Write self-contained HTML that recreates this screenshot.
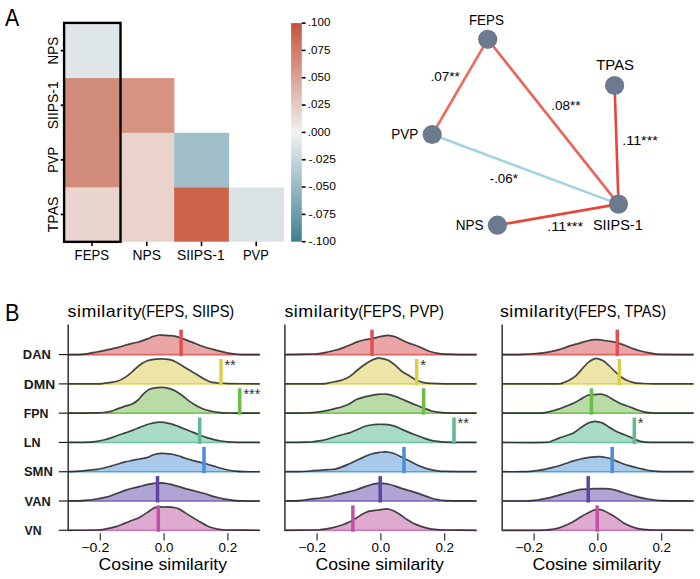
<!DOCTYPE html>
<html><head><meta charset="utf-8"><style>html,body{margin:0;padding:0;background:#fff;}svg{display:block;font-family:"Liberation Sans",sans-serif;}</style></head><body>
<svg width="700" height="579" viewBox="0 0 700 579">
<rect width="700" height="579" fill="#fff"/>
<text x="5.10" y="25.90" font-size="24.00" text-anchor="start" font-weight="normal" fill="#000" font-family="Liberation Sans" textLength="14.20" lengthAdjust="spacingAndGlyphs">A</text>
<rect x="64.70" y="23.40" width="55.02" height="55.00" fill="#dfe6ea"/>
<rect x="64.70" y="78.10" width="55.02" height="109.70" fill="#d08b79"/>
<rect x="64.70" y="187.50" width="55.02" height="54.20" fill="#ebd5cf"/>
<rect x="119.42" y="78.10" width="55.02" height="55.00" fill="#d79382"/>
<rect x="119.42" y="132.80" width="55.02" height="108.90" fill="#ebd3cd"/>
<rect x="174.14" y="132.80" width="55.02" height="55.00" fill="#9fbec9"/>
<rect x="174.14" y="187.50" width="55.02" height="54.20" fill="#cc6449"/>
<rect x="228.86" y="187.50" width="55.02" height="54.20" fill="#dae2e6"/>
<rect x="64.1" y="22.9" width="56.4" height="218.95" fill="none" stroke="#000" stroke-width="2.4"/>
<line x1="60.80" y1="50.69" x2="64.70" y2="50.69" stroke="#000" stroke-width="1.8"/>
<text transform="translate(57.6,50.69) rotate(-90)" x="0" y="0" font-size="14" text-anchor="middle" font-family="Liberation Sans" textLength="27.60" lengthAdjust="spacingAndGlyphs">NPS</text>
<line x1="60.80" y1="105.27" x2="64.70" y2="105.27" stroke="#000" stroke-width="1.8"/>
<text transform="translate(57.6,105.27) rotate(-90)" x="0" y="0" font-size="14" text-anchor="middle" font-family="Liberation Sans" textLength="48.00" lengthAdjust="spacingAndGlyphs">SIIPS-1</text>
<line x1="60.80" y1="159.85" x2="64.70" y2="159.85" stroke="#000" stroke-width="1.8"/>
<text transform="translate(57.6,159.85) rotate(-90)" x="0" y="0" font-size="14" text-anchor="middle" font-family="Liberation Sans" textLength="25.80" lengthAdjust="spacingAndGlyphs">PVP</text>
<line x1="60.80" y1="214.43" x2="64.70" y2="214.43" stroke="#000" stroke-width="1.8"/>
<text transform="translate(57.6,214.43) rotate(-90)" x="0" y="0" font-size="14" text-anchor="middle" font-family="Liberation Sans" textLength="35.50" lengthAdjust="spacingAndGlyphs">TPAS</text>
<line x1="92.06" y1="241.72" x2="92.06" y2="246.12" stroke="#000" stroke-width="1.6"/>
<text x="91.76" y="259.60" font-size="14.00" text-anchor="middle" font-weight="normal" fill="#000" font-family="Liberation Sans" textLength="34.30" lengthAdjust="spacingAndGlyphs">FEPS</text>
<line x1="146.78" y1="241.72" x2="146.78" y2="246.12" stroke="#000" stroke-width="1.6"/>
<text x="146.78" y="259.60" font-size="14.00" text-anchor="middle" font-weight="normal" fill="#000" font-family="Liberation Sans" textLength="28.50" lengthAdjust="spacingAndGlyphs">NPS</text>
<line x1="201.50" y1="241.72" x2="201.50" y2="246.12" stroke="#000" stroke-width="1.6"/>
<text x="200.80" y="259.60" font-size="14.00" text-anchor="middle" font-weight="normal" fill="#000" font-family="Liberation Sans" textLength="47.80" lengthAdjust="spacingAndGlyphs">SIIPS-1</text>
<line x1="256.22" y1="241.72" x2="256.22" y2="246.12" stroke="#000" stroke-width="1.6"/>
<text x="255.92" y="259.60" font-size="14.00" text-anchor="middle" font-weight="normal" fill="#000" font-family="Liberation Sans" textLength="25.90" lengthAdjust="spacingAndGlyphs">PVP</text>
<defs><linearGradient id="cb" x1="0" y1="0" x2="0" y2="1">
<stop offset="0.000" stop-color="#c3553a"/>
<stop offset="0.125" stop-color="#cf7c68"/>
<stop offset="0.250" stop-color="#daa294"/>
<stop offset="0.375" stop-color="#e6cac3"/>
<stop offset="0.500" stop-color="#f2f1f1"/>
<stop offset="0.625" stop-color="#c4d6db"/>
<stop offset="0.750" stop-color="#98b9c3"/>
<stop offset="0.875" stop-color="#6b9cab"/>
<stop offset="1.000" stop-color="#3f7f93"/>
</linearGradient></defs>
<rect x="291.10" y="23.10" width="10.70" height="218.60" fill="url(#cb)"/>
<line x1="301.80" y1="23.10" x2="305.60" y2="23.10" stroke="#000" stroke-width="1.6"/>
<text x="307.80" y="26.30" font-size="11.00" text-anchor="start" font-weight="normal" fill="#000" font-family="Liberation Sans" textLength="22.60" lengthAdjust="spacingAndGlyphs">.100</text>
<line x1="301.80" y1="50.42" x2="305.60" y2="50.42" stroke="#000" stroke-width="1.6"/>
<text x="307.80" y="53.62" font-size="11.00" text-anchor="start" font-weight="normal" fill="#000" font-family="Liberation Sans" textLength="22.60" lengthAdjust="spacingAndGlyphs">.075</text>
<line x1="301.80" y1="77.75" x2="305.60" y2="77.75" stroke="#000" stroke-width="1.6"/>
<text x="307.80" y="80.95" font-size="11.00" text-anchor="start" font-weight="normal" fill="#000" font-family="Liberation Sans" textLength="22.60" lengthAdjust="spacingAndGlyphs">.050</text>
<line x1="301.80" y1="105.07" x2="305.60" y2="105.07" stroke="#000" stroke-width="1.6"/>
<text x="307.80" y="108.27" font-size="11.00" text-anchor="start" font-weight="normal" fill="#000" font-family="Liberation Sans" textLength="22.60" lengthAdjust="spacingAndGlyphs">.025</text>
<line x1="301.80" y1="132.40" x2="305.60" y2="132.40" stroke="#000" stroke-width="1.6"/>
<text x="307.80" y="135.60" font-size="11.00" text-anchor="start" font-weight="normal" fill="#000" font-family="Liberation Sans" textLength="22.60" lengthAdjust="spacingAndGlyphs">.000</text>
<line x1="301.80" y1="159.72" x2="305.60" y2="159.72" stroke="#000" stroke-width="1.6"/>
<text x="308.50" y="162.92" font-size="11.00" text-anchor="start" font-weight="normal" fill="#000" font-family="Liberation Sans" textLength="27.40" lengthAdjust="spacingAndGlyphs">-.025</text>
<line x1="301.80" y1="187.05" x2="305.60" y2="187.05" stroke="#000" stroke-width="1.6"/>
<text x="308.50" y="190.25" font-size="11.00" text-anchor="start" font-weight="normal" fill="#000" font-family="Liberation Sans" textLength="27.40" lengthAdjust="spacingAndGlyphs">-.050</text>
<line x1="301.80" y1="214.38" x2="305.60" y2="214.38" stroke="#000" stroke-width="1.6"/>
<text x="308.50" y="217.57" font-size="11.00" text-anchor="start" font-weight="normal" fill="#000" font-family="Liberation Sans" textLength="27.40" lengthAdjust="spacingAndGlyphs">-.075</text>
<line x1="301.80" y1="241.70" x2="305.60" y2="241.70" stroke="#000" stroke-width="1.6"/>
<text x="308.50" y="244.90" font-size="11.00" text-anchor="start" font-weight="normal" fill="#000" font-family="Liberation Sans" textLength="27.40" lengthAdjust="spacingAndGlyphs">-.100</text>
<line x1="487.70" y1="39.30" x2="432.20" y2="134.50" stroke="#f06b5d" stroke-width="2.6"/>
<line x1="487.70" y1="39.30" x2="618.50" y2="204.10" stroke="#ee6257" stroke-width="2.6"/>
<line x1="432.20" y1="134.50" x2="618.50" y2="204.10" stroke="#a4d3e3" stroke-width="2.6"/>
<line x1="614.60" y1="85.50" x2="618.50" y2="204.10" stroke="#e8453a" stroke-width="2.6"/>
<line x1="497.40" y1="225.20" x2="618.50" y2="204.10" stroke="#e8453a" stroke-width="2.6"/>
<circle cx="487.70" cy="39.30" r="9.6" fill="#6b7a8d"/>
<circle cx="614.60" cy="85.50" r="9.6" fill="#6b7a8d"/>
<circle cx="432.20" cy="134.50" r="9.6" fill="#6b7a8d"/>
<circle cx="618.50" cy="204.10" r="9.6" fill="#6b7a8d"/>
<circle cx="497.40" cy="225.20" r="9.6" fill="#6b7a8d"/>
<text x="468.90" y="25.10" font-size="14.00" text-anchor="start" font-weight="normal" fill="#000" font-family="Liberation Sans" textLength="35.00" lengthAdjust="spacingAndGlyphs">FEPS</text>
<text x="596.30" y="70.20" font-size="14.00" text-anchor="start" font-weight="normal" fill="#000" font-family="Liberation Sans" textLength="37.70" lengthAdjust="spacingAndGlyphs">TPAS</text>
<text x="391.20" y="138.70" font-size="14.00" text-anchor="start" font-weight="normal" fill="#000" font-family="Liberation Sans" textLength="27.00" lengthAdjust="spacingAndGlyphs">PVP</text>
<text x="455.70" y="229.50" font-size="14.00" text-anchor="start" font-weight="normal" fill="#000" font-family="Liberation Sans" textLength="27.90" lengthAdjust="spacingAndGlyphs">NPS</text>
<text x="592.90" y="230.30" font-size="14.00" text-anchor="start" font-weight="normal" fill="#000" font-family="Liberation Sans" textLength="49.80" lengthAdjust="spacingAndGlyphs">SIIPS-1</text>
<text x="430.40" y="80.80" font-size="13.00" text-anchor="start" font-weight="normal" fill="#000" font-family="Liberation Sans" textLength="29.40" lengthAdjust="spacingAndGlyphs">.07**</text>
<text x="551.20" y="109.50" font-size="13.00" text-anchor="start" font-weight="normal" fill="#000" font-family="Liberation Sans" textLength="29.30" lengthAdjust="spacingAndGlyphs">.08**</text>
<text x="622.30" y="145.40" font-size="13.00" text-anchor="start" font-weight="normal" fill="#000" font-family="Liberation Sans" textLength="35.50" lengthAdjust="spacingAndGlyphs">.11***</text>
<text x="489.70" y="182.70" font-size="13.00" text-anchor="start" font-weight="normal" fill="#000" font-family="Liberation Sans" textLength="28.20" lengthAdjust="spacingAndGlyphs">-.06*</text>
<text x="547.30" y="230.90" font-size="13.00" text-anchor="start" font-weight="normal" fill="#000" font-family="Liberation Sans" textLength="35.80" lengthAdjust="spacingAndGlyphs">.11***</text>
<text x="5.00" y="320.50" font-size="24.00" text-anchor="start" font-weight="normal" fill="#000" font-family="Liberation Sans" textLength="14.50" lengthAdjust="spacingAndGlyphs">B</text>
<text x="67.50" y="316.60" font-size="17.00" text-anchor="start" font-weight="normal" fill="#000" font-family="Liberation Sans" textLength="74.60" lengthAdjust="spacingAndGlyphs" letter-spacing="0.5">similarity</text>
<text x="141.30" y="316.60" font-size="17.00" text-anchor="start" font-weight="normal" fill="#000" font-family="Liberation Sans" textLength="92.90" lengthAdjust="spacingAndGlyphs">(FEPS, SIIPS)</text>
<text x="284.40" y="316.60" font-size="17.00" text-anchor="start" font-weight="normal" fill="#000" font-family="Liberation Sans" textLength="74.60" lengthAdjust="spacingAndGlyphs" letter-spacing="0.5">similarity</text>
<text x="358.20" y="316.60" font-size="17.00" text-anchor="start" font-weight="normal" fill="#000" font-family="Liberation Sans" textLength="85.70" lengthAdjust="spacingAndGlyphs">(FEPS, PVP)</text>
<text x="499.90" y="316.60" font-size="17.00" text-anchor="start" font-weight="normal" fill="#000" font-family="Liberation Sans" textLength="74.60" lengthAdjust="spacingAndGlyphs" letter-spacing="0.5">similarity</text>
<text x="573.70" y="316.60" font-size="17.00" text-anchor="start" font-weight="normal" fill="#000" font-family="Liberation Sans" textLength="92.30" lengthAdjust="spacingAndGlyphs">(FEPS, TPAS)</text>
<text x="22.80" y="359.30" font-size="13.00" text-anchor="start" font-weight="bold" fill="#1a1a1a" font-family="Liberation Sans" textLength="28.00" lengthAdjust="spacingAndGlyphs">DAN</text>
<text x="23.80" y="388.58" font-size="13.00" text-anchor="start" font-weight="bold" fill="#1a1a1a" font-family="Liberation Sans" textLength="31.40" lengthAdjust="spacingAndGlyphs">DMN</text>
<text x="23.80" y="417.86" font-size="13.00" text-anchor="start" font-weight="bold" fill="#1a1a1a" font-family="Liberation Sans" textLength="24.70" lengthAdjust="spacingAndGlyphs">FPN</text>
<text x="23.80" y="447.14" font-size="13.00" text-anchor="start" font-weight="bold" fill="#1a1a1a" font-family="Liberation Sans" textLength="16.70" lengthAdjust="spacingAndGlyphs">LN</text>
<text x="23.90" y="476.42" font-size="13.00" text-anchor="start" font-weight="bold" fill="#1a1a1a" font-family="Liberation Sans" textLength="28.90" lengthAdjust="spacingAndGlyphs">SMN</text>
<text x="24.60" y="505.70" font-size="13.00" text-anchor="start" font-weight="bold" fill="#1a1a1a" font-family="Liberation Sans" textLength="26.10" lengthAdjust="spacingAndGlyphs">VAN</text>
<text x="24.60" y="534.98" font-size="13.00" text-anchor="start" font-weight="bold" fill="#1a1a1a" font-family="Liberation Sans" textLength="17.00" lengthAdjust="spacingAndGlyphs">VN</text>
<path d="M68.20,354.60 C70.55,354.55 78.77,354.50 82.30,354.30 C85.83,354.10 87.02,353.78 89.40,353.40 C91.78,353.02 94.22,352.47 96.60,352.00 C98.98,351.53 101.32,351.08 103.70,350.60 C106.08,350.12 108.52,349.63 110.90,349.10 C113.28,348.57 115.63,348.03 118.00,347.40 C120.37,346.77 122.72,345.97 125.10,345.30 C127.48,344.63 129.92,344.00 132.30,343.40 C134.68,342.80 137.02,342.42 139.40,341.70 C141.78,340.98 144.22,340.00 146.60,339.10 C148.98,338.20 151.57,336.98 153.70,336.30 C155.83,335.62 157.68,335.17 159.40,335.00 C161.12,334.83 162.05,335.18 164.00,335.30 C165.95,335.42 168.72,335.40 171.10,335.70 C173.48,336.00 175.92,336.45 178.30,337.10 C180.68,337.75 183.02,338.72 185.40,339.60 C187.78,340.48 190.22,341.45 192.60,342.40 C194.98,343.35 197.32,344.42 199.70,345.30 C202.08,346.18 204.52,346.98 206.90,347.70 C209.28,348.42 211.63,348.98 214.00,349.60 C216.37,350.22 218.72,350.82 221.10,351.40 C223.48,351.98 225.92,352.65 228.30,353.10 C230.68,353.55 233.02,353.85 235.40,354.10 C237.78,354.35 238.53,354.52 242.60,354.60 C246.67,354.68 256.93,354.60 259.80,354.60 L259.80,354.60 L68.20,354.60 Z" fill="#eaa6a6" stroke="none"/>
<line x1="68.20" y1="354.60" x2="259.80" y2="354.60" stroke="#e36363" stroke-width="1.6"/>
<path d="M68.20,354.60 C70.55,354.55 78.77,354.50 82.30,354.30 C85.83,354.10 87.02,353.78 89.40,353.40 C91.78,353.02 94.22,352.47 96.60,352.00 C98.98,351.53 101.32,351.08 103.70,350.60 C106.08,350.12 108.52,349.63 110.90,349.10 C113.28,348.57 115.63,348.03 118.00,347.40 C120.37,346.77 122.72,345.97 125.10,345.30 C127.48,344.63 129.92,344.00 132.30,343.40 C134.68,342.80 137.02,342.42 139.40,341.70 C141.78,340.98 144.22,340.00 146.60,339.10 C148.98,338.20 151.57,336.98 153.70,336.30 C155.83,335.62 157.68,335.17 159.40,335.00 C161.12,334.83 162.05,335.18 164.00,335.30 C165.95,335.42 168.72,335.40 171.10,335.70 C173.48,336.00 175.92,336.45 178.30,337.10 C180.68,337.75 183.02,338.72 185.40,339.60 C187.78,340.48 190.22,341.45 192.60,342.40 C194.98,343.35 197.32,344.42 199.70,345.30 C202.08,346.18 204.52,346.98 206.90,347.70 C209.28,348.42 211.63,348.98 214.00,349.60 C216.37,350.22 218.72,350.82 221.10,351.40 C223.48,351.98 225.92,352.65 228.30,353.10 C230.68,353.55 233.02,353.85 235.40,354.10 C237.78,354.35 238.53,354.52 242.60,354.60 C246.67,354.68 256.93,354.60 259.80,354.60" fill="none" stroke="#1a1a1a" stroke-opacity="0.8" stroke-width="1.7" stroke-linejoin="round"/>
<rect x="179.35" y="329.70" width="3.5" height="26.4" fill="#e05050"/>
<path d="M68.20,383.88 C72.93,383.88 90.68,383.96 96.60,383.88 C102.52,383.80 101.32,383.65 103.70,383.40 C106.08,383.15 108.52,382.80 110.90,382.40 C113.28,382.00 115.63,381.83 118.00,381.00 C120.37,380.17 122.72,378.95 125.10,377.40 C127.48,375.85 129.92,373.72 132.30,371.70 C134.68,369.68 137.02,367.08 139.40,365.30 C141.78,363.52 144.22,362.00 146.60,361.00 C148.98,360.00 151.32,359.65 153.70,359.30 C156.08,358.95 159.18,358.93 160.90,358.90 C162.62,358.87 162.53,358.98 164.00,359.10 C165.47,359.22 167.80,359.17 169.70,359.60 C171.60,360.03 173.25,360.63 175.40,361.70 C177.55,362.77 180.22,364.57 182.60,366.00 C184.98,367.43 187.32,368.87 189.70,370.30 C192.08,371.73 194.52,373.17 196.90,374.60 C199.28,376.03 201.87,377.72 204.00,378.90 C206.13,380.08 207.55,381.03 209.70,381.70 C211.85,382.37 213.80,382.58 216.90,382.90 C220.00,383.22 221.15,383.44 228.30,383.60 C235.45,383.76 254.55,383.83 259.80,383.88 L259.80,383.88 L68.20,383.88 Z" fill="#ede5a5" stroke="none"/>
<line x1="68.20" y1="383.88" x2="259.80" y2="383.88" stroke="#e2d75a" stroke-width="1.6"/>
<path d="M68.20,383.88 C72.93,383.88 90.68,383.96 96.60,383.88 C102.52,383.80 101.32,383.65 103.70,383.40 C106.08,383.15 108.52,382.80 110.90,382.40 C113.28,382.00 115.63,381.83 118.00,381.00 C120.37,380.17 122.72,378.95 125.10,377.40 C127.48,375.85 129.92,373.72 132.30,371.70 C134.68,369.68 137.02,367.08 139.40,365.30 C141.78,363.52 144.22,362.00 146.60,361.00 C148.98,360.00 151.32,359.65 153.70,359.30 C156.08,358.95 159.18,358.93 160.90,358.90 C162.62,358.87 162.53,358.98 164.00,359.10 C165.47,359.22 167.80,359.17 169.70,359.60 C171.60,360.03 173.25,360.63 175.40,361.70 C177.55,362.77 180.22,364.57 182.60,366.00 C184.98,367.43 187.32,368.87 189.70,370.30 C192.08,371.73 194.52,373.17 196.90,374.60 C199.28,376.03 201.87,377.72 204.00,378.90 C206.13,380.08 207.55,381.03 209.70,381.70 C211.85,382.37 213.80,382.58 216.90,382.90 C220.00,383.22 221.15,383.44 228.30,383.60 C235.45,383.76 254.55,383.83 259.80,383.88" fill="none" stroke="#1a1a1a" stroke-opacity="0.8" stroke-width="1.7" stroke-linejoin="round"/>
<rect x="219.25" y="358.98" width="3.5" height="26.4" fill="#dccf45"/>
<text x="224.40" y="369.88" font-size="14.00" text-anchor="start" font-weight="normal" fill="#333" font-family="Liberation Sans" textLength="11.40" lengthAdjust="spacingAndGlyphs">**</text>
<path d="M68.20,413.16 C72.93,413.12 90.45,413.03 96.60,412.90 C102.75,412.77 102.72,412.65 105.10,412.40 C107.48,412.15 108.75,412.03 110.90,411.40 C113.05,410.77 115.63,409.48 118.00,408.60 C120.37,407.72 122.72,406.88 125.10,406.10 C127.48,405.32 130.15,404.92 132.30,403.90 C134.45,402.88 136.10,401.72 138.00,400.00 C139.90,398.28 141.80,395.38 143.70,393.60 C145.60,391.82 147.25,390.30 149.40,389.30 C151.55,388.30 154.22,387.92 156.60,387.60 C158.98,387.28 161.52,387.23 163.70,387.40 C165.88,387.57 167.75,388.00 169.70,388.60 C171.65,389.20 173.25,389.82 175.40,391.00 C177.55,392.18 180.22,393.97 182.60,395.70 C184.98,397.43 187.32,399.67 189.70,401.40 C192.08,403.13 194.52,404.78 196.90,406.10 C199.28,407.42 201.63,408.47 204.00,409.30 C206.37,410.13 208.72,410.58 211.10,411.10 C213.48,411.62 215.43,412.08 218.30,412.40 C221.17,412.72 221.38,412.87 228.30,413.00 C235.22,413.13 254.55,413.13 259.80,413.16 L259.80,413.16 L68.20,413.16 Z" fill="#b9dba6" stroke="none"/>
<line x1="68.20" y1="413.16" x2="259.80" y2="413.16" stroke="#7cc35a" stroke-width="1.6"/>
<path d="M68.20,413.16 C72.93,413.12 90.45,413.03 96.60,412.90 C102.75,412.77 102.72,412.65 105.10,412.40 C107.48,412.15 108.75,412.03 110.90,411.40 C113.05,410.77 115.63,409.48 118.00,408.60 C120.37,407.72 122.72,406.88 125.10,406.10 C127.48,405.32 130.15,404.92 132.30,403.90 C134.45,402.88 136.10,401.72 138.00,400.00 C139.90,398.28 141.80,395.38 143.70,393.60 C145.60,391.82 147.25,390.30 149.40,389.30 C151.55,388.30 154.22,387.92 156.60,387.60 C158.98,387.28 161.52,387.23 163.70,387.40 C165.88,387.57 167.75,388.00 169.70,388.60 C171.65,389.20 173.25,389.82 175.40,391.00 C177.55,392.18 180.22,393.97 182.60,395.70 C184.98,397.43 187.32,399.67 189.70,401.40 C192.08,403.13 194.52,404.78 196.90,406.10 C199.28,407.42 201.63,408.47 204.00,409.30 C206.37,410.13 208.72,410.58 211.10,411.10 C213.48,411.62 215.43,412.08 218.30,412.40 C221.17,412.72 221.38,412.87 228.30,413.00 C235.22,413.13 254.55,413.13 259.80,413.16" fill="none" stroke="#1a1a1a" stroke-opacity="0.8" stroke-width="1.7" stroke-linejoin="round"/>
<rect x="237.95" y="388.26" width="3.5" height="26.4" fill="#6dbb48"/>
<text x="243.40" y="399.16" font-size="14.00" text-anchor="start" font-weight="normal" fill="#333" font-family="Liberation Sans" textLength="17.00" lengthAdjust="spacingAndGlyphs">***</text>
<path d="M68.20,442.44 C71.73,442.38 84.67,442.27 89.40,442.10 C94.13,441.93 94.22,441.75 96.60,441.40 C98.98,441.05 101.32,440.58 103.70,440.00 C106.08,439.42 108.52,438.68 110.90,437.90 C113.28,437.12 115.63,436.13 118.00,435.30 C120.37,434.47 122.72,433.72 125.10,432.90 C127.48,432.08 129.92,431.28 132.30,430.40 C134.68,429.52 137.02,428.55 139.40,427.60 C141.78,426.65 144.22,425.48 146.60,424.70 C148.98,423.92 151.57,423.33 153.70,422.90 C155.83,422.47 157.68,422.18 159.40,422.10 C161.12,422.02 162.05,422.10 164.00,422.40 C165.95,422.70 168.72,423.23 171.10,423.90 C173.48,424.57 175.92,425.50 178.30,426.40 C180.68,427.30 183.02,428.35 185.40,429.30 C187.78,430.25 190.22,431.15 192.60,432.10 C194.98,433.05 197.32,434.08 199.70,435.00 C202.08,435.92 204.52,436.83 206.90,437.60 C209.28,438.37 211.63,439.03 214.00,439.60 C216.37,440.17 218.72,440.62 221.10,441.00 C223.48,441.38 225.43,441.68 228.30,441.90 C231.17,442.12 233.05,442.21 238.30,442.30 C243.55,442.39 256.22,442.42 259.80,442.44 L259.80,442.44 L68.20,442.44 Z" fill="#a9dcc6" stroke="none"/>
<line x1="68.20" y1="442.44" x2="259.80" y2="442.44" stroke="#6cc59e" stroke-width="1.6"/>
<path d="M68.20,442.44 C71.73,442.38 84.67,442.27 89.40,442.10 C94.13,441.93 94.22,441.75 96.60,441.40 C98.98,441.05 101.32,440.58 103.70,440.00 C106.08,439.42 108.52,438.68 110.90,437.90 C113.28,437.12 115.63,436.13 118.00,435.30 C120.37,434.47 122.72,433.72 125.10,432.90 C127.48,432.08 129.92,431.28 132.30,430.40 C134.68,429.52 137.02,428.55 139.40,427.60 C141.78,426.65 144.22,425.48 146.60,424.70 C148.98,423.92 151.57,423.33 153.70,422.90 C155.83,422.47 157.68,422.18 159.40,422.10 C161.12,422.02 162.05,422.10 164.00,422.40 C165.95,422.70 168.72,423.23 171.10,423.90 C173.48,424.57 175.92,425.50 178.30,426.40 C180.68,427.30 183.02,428.35 185.40,429.30 C187.78,430.25 190.22,431.15 192.60,432.10 C194.98,433.05 197.32,434.08 199.70,435.00 C202.08,435.92 204.52,436.83 206.90,437.60 C209.28,438.37 211.63,439.03 214.00,439.60 C216.37,440.17 218.72,440.62 221.10,441.00 C223.48,441.38 225.43,441.68 228.30,441.90 C231.17,442.12 233.05,442.21 238.30,442.30 C243.55,442.39 256.22,442.42 259.80,442.44" fill="none" stroke="#1a1a1a" stroke-opacity="0.8" stroke-width="1.7" stroke-linejoin="round"/>
<rect x="197.95" y="417.54" width="3.5" height="26.4" fill="#5dbb92"/>
<path d="M68.20,471.72 C70.07,471.62 75.87,471.37 79.40,471.10 C82.93,470.83 86.53,470.40 89.40,470.10 C92.27,469.80 94.22,469.65 96.60,469.30 C98.98,468.95 101.32,468.53 103.70,468.00 C106.08,467.47 108.52,466.77 110.90,466.10 C113.28,465.43 115.63,464.70 118.00,464.00 C120.37,463.30 122.72,462.50 125.10,461.90 C127.48,461.30 129.92,460.88 132.30,460.40 C134.68,459.92 137.02,459.47 139.40,459.00 C141.78,458.53 144.22,458.32 146.60,457.60 C148.98,456.88 151.32,455.40 153.70,454.70 C156.08,454.00 159.18,453.60 160.90,453.40 C162.62,453.20 162.30,453.40 164.00,453.50 C165.70,453.60 168.72,453.63 171.10,454.00 C173.48,454.37 175.92,454.98 178.30,455.70 C180.68,456.42 183.02,457.52 185.40,458.30 C187.78,459.08 190.22,459.77 192.60,460.40 C194.98,461.03 197.32,461.50 199.70,462.10 C202.08,462.70 204.52,463.33 206.90,464.00 C209.28,464.67 211.63,465.38 214.00,466.10 C216.37,466.82 218.72,467.65 221.10,468.30 C223.48,468.95 225.92,469.53 228.30,470.00 C230.68,470.47 232.78,470.82 235.40,471.10 C238.02,471.38 239.93,471.60 244.00,471.70 C248.07,471.80 257.17,471.72 259.80,471.72 L259.80,471.72 L68.20,471.72 Z" fill="#a9c9ea" stroke="none"/>
<line x1="68.20" y1="471.72" x2="259.80" y2="471.72" stroke="#5a9ddf" stroke-width="1.6"/>
<path d="M68.20,471.72 C70.07,471.62 75.87,471.37 79.40,471.10 C82.93,470.83 86.53,470.40 89.40,470.10 C92.27,469.80 94.22,469.65 96.60,469.30 C98.98,468.95 101.32,468.53 103.70,468.00 C106.08,467.47 108.52,466.77 110.90,466.10 C113.28,465.43 115.63,464.70 118.00,464.00 C120.37,463.30 122.72,462.50 125.10,461.90 C127.48,461.30 129.92,460.88 132.30,460.40 C134.68,459.92 137.02,459.47 139.40,459.00 C141.78,458.53 144.22,458.32 146.60,457.60 C148.98,456.88 151.32,455.40 153.70,454.70 C156.08,454.00 159.18,453.60 160.90,453.40 C162.62,453.20 162.30,453.40 164.00,453.50 C165.70,453.60 168.72,453.63 171.10,454.00 C173.48,454.37 175.92,454.98 178.30,455.70 C180.68,456.42 183.02,457.52 185.40,458.30 C187.78,459.08 190.22,459.77 192.60,460.40 C194.98,461.03 197.32,461.50 199.70,462.10 C202.08,462.70 204.52,463.33 206.90,464.00 C209.28,464.67 211.63,465.38 214.00,466.10 C216.37,466.82 218.72,467.65 221.10,468.30 C223.48,468.95 225.92,469.53 228.30,470.00 C230.68,470.47 232.78,470.82 235.40,471.10 C238.02,471.38 239.93,471.60 244.00,471.70 C248.07,471.80 257.17,471.72 259.80,471.72" fill="none" stroke="#1a1a1a" stroke-opacity="0.8" stroke-width="1.7" stroke-linejoin="round"/>
<rect x="202.25" y="446.82" width="3.5" height="26.4" fill="#4a8fd6"/>
<path d="M68.20,501.00 C70.55,500.95 78.77,500.87 82.30,500.70 C85.83,500.53 87.02,500.28 89.40,500.00 C91.78,499.72 94.22,499.40 96.60,499.00 C98.98,498.60 101.32,498.15 103.70,497.60 C106.08,497.05 108.52,496.47 110.90,495.70 C113.28,494.93 115.63,493.88 118.00,493.00 C120.37,492.12 122.72,491.18 125.10,490.40 C127.48,489.62 129.92,488.93 132.30,488.30 C134.68,487.67 137.02,487.20 139.40,486.60 C141.78,486.00 144.22,485.25 146.60,484.70 C148.98,484.15 151.32,483.60 153.70,483.30 C156.08,483.00 159.18,482.93 160.90,482.90 C162.62,482.87 162.30,482.85 164.00,483.10 C165.70,483.35 168.72,483.85 171.10,484.40 C173.48,484.95 175.92,485.70 178.30,486.40 C180.68,487.10 183.02,487.93 185.40,488.60 C187.78,489.27 190.22,489.78 192.60,490.40 C194.98,491.02 197.32,491.65 199.70,492.30 C202.08,492.95 204.52,493.58 206.90,494.30 C209.28,495.02 211.63,495.93 214.00,496.60 C216.37,497.27 218.72,497.78 221.10,498.30 C223.48,498.82 225.92,499.32 228.30,499.70 C230.68,500.08 232.78,500.38 235.40,500.60 C238.02,500.82 239.93,500.93 244.00,501.00 C248.07,501.07 257.17,501.00 259.80,501.00 L259.80,501.00 L68.20,501.00 Z" fill="#b0a4d4" stroke="none"/>
<line x1="68.20" y1="501.00" x2="259.80" y2="501.00" stroke="#7a64b8" stroke-width="1.6"/>
<path d="M68.20,501.00 C70.55,500.95 78.77,500.87 82.30,500.70 C85.83,500.53 87.02,500.28 89.40,500.00 C91.78,499.72 94.22,499.40 96.60,499.00 C98.98,498.60 101.32,498.15 103.70,497.60 C106.08,497.05 108.52,496.47 110.90,495.70 C113.28,494.93 115.63,493.88 118.00,493.00 C120.37,492.12 122.72,491.18 125.10,490.40 C127.48,489.62 129.92,488.93 132.30,488.30 C134.68,487.67 137.02,487.20 139.40,486.60 C141.78,486.00 144.22,485.25 146.60,484.70 C148.98,484.15 151.32,483.60 153.70,483.30 C156.08,483.00 159.18,482.93 160.90,482.90 C162.62,482.87 162.30,482.85 164.00,483.10 C165.70,483.35 168.72,483.85 171.10,484.40 C173.48,484.95 175.92,485.70 178.30,486.40 C180.68,487.10 183.02,487.93 185.40,488.60 C187.78,489.27 190.22,489.78 192.60,490.40 C194.98,491.02 197.32,491.65 199.70,492.30 C202.08,492.95 204.52,493.58 206.90,494.30 C209.28,495.02 211.63,495.93 214.00,496.60 C216.37,497.27 218.72,497.78 221.10,498.30 C223.48,498.82 225.92,499.32 228.30,499.70 C230.68,500.08 232.78,500.38 235.40,500.60 C238.02,500.82 239.93,500.93 244.00,501.00 C248.07,501.07 257.17,501.00 259.80,501.00" fill="none" stroke="#1a1a1a" stroke-opacity="0.8" stroke-width="1.7" stroke-linejoin="round"/>
<rect x="155.75" y="476.10" width="3.5" height="26.4" fill="#5e44a5"/>
<path d="M68.20,530.28 C72.93,530.23 90.68,530.16 96.60,530.00 C102.52,529.84 101.32,529.65 103.70,529.30 C106.08,528.95 108.52,528.45 110.90,527.90 C113.28,527.35 115.63,526.80 118.00,526.00 C120.37,525.20 122.72,524.05 125.10,523.10 C127.48,522.15 129.92,521.25 132.30,520.30 C134.68,519.35 137.02,518.63 139.40,517.40 C141.78,516.17 144.45,514.32 146.60,512.90 C148.75,511.48 150.63,509.87 152.30,508.90 C153.97,507.93 154.65,507.42 156.60,507.10 C158.55,506.78 161.58,507.00 164.00,507.00 C166.42,507.00 168.72,506.83 171.10,507.10 C173.48,507.37 175.92,507.63 178.30,508.60 C180.68,509.57 183.02,511.43 185.40,512.90 C187.78,514.37 190.22,515.93 192.60,517.40 C194.98,518.87 197.32,520.32 199.70,521.70 C202.08,523.08 204.52,524.60 206.90,525.70 C209.28,526.80 211.63,527.65 214.00,528.30 C216.37,528.95 218.72,529.32 221.10,529.60 C223.48,529.88 221.85,529.89 228.30,530.00 C234.75,530.11 254.55,530.23 259.80,530.28 L259.80,530.28 L68.20,530.28 Z" fill="#deaacf" stroke="none"/>
<line x1="68.20" y1="530.28" x2="259.80" y2="530.28" stroke="#d070b8" stroke-width="1.6"/>
<path d="M68.20,530.28 C72.93,530.23 90.68,530.16 96.60,530.00 C102.52,529.84 101.32,529.65 103.70,529.30 C106.08,528.95 108.52,528.45 110.90,527.90 C113.28,527.35 115.63,526.80 118.00,526.00 C120.37,525.20 122.72,524.05 125.10,523.10 C127.48,522.15 129.92,521.25 132.30,520.30 C134.68,519.35 137.02,518.63 139.40,517.40 C141.78,516.17 144.45,514.32 146.60,512.90 C148.75,511.48 150.63,509.87 152.30,508.90 C153.97,507.93 154.65,507.42 156.60,507.10 C158.55,506.78 161.58,507.00 164.00,507.00 C166.42,507.00 168.72,506.83 171.10,507.10 C173.48,507.37 175.92,507.63 178.30,508.60 C180.68,509.57 183.02,511.43 185.40,512.90 C187.78,514.37 190.22,515.93 192.60,517.40 C194.98,518.87 197.32,520.32 199.70,521.70 C202.08,523.08 204.52,524.60 206.90,525.70 C209.28,526.80 211.63,527.65 214.00,528.30 C216.37,528.95 218.72,529.32 221.10,529.60 C223.48,529.88 221.85,529.89 228.30,530.00 C234.75,530.11 254.55,530.23 259.80,530.28" fill="none" stroke="#1a1a1a" stroke-opacity="0.8" stroke-width="1.7" stroke-linejoin="round"/>
<rect x="156.55" y="505.38" width="3.5" height="26.4" fill="#c250a8"/>
<line x1="68.20" y1="324.40" x2="68.20" y2="530.98" stroke="#333" stroke-width="1.5"/>
<line x1="58.80" y1="354.60" x2="68.20" y2="354.60" stroke="#222" stroke-width="1.2"/>
<line x1="58.80" y1="383.88" x2="68.20" y2="383.88" stroke="#222" stroke-width="1.2"/>
<line x1="58.80" y1="413.16" x2="68.20" y2="413.16" stroke="#222" stroke-width="1.2"/>
<line x1="58.80" y1="442.44" x2="68.20" y2="442.44" stroke="#222" stroke-width="1.2"/>
<line x1="58.80" y1="471.72" x2="68.20" y2="471.72" stroke="#222" stroke-width="1.2"/>
<line x1="58.80" y1="501.00" x2="68.20" y2="501.00" stroke="#222" stroke-width="1.2"/>
<line x1="58.80" y1="530.28" x2="68.20" y2="530.28" stroke="#222" stroke-width="1.2"/>
<line x1="100.30" y1="533.20" x2="100.30" y2="540.60" stroke="#222" stroke-width="1.1"/>
<text x="81.35" y="552.20" font-size="12.40" text-anchor="start" font-weight="normal" fill="#000" font-family="Liberation Sans" textLength="27.90" lengthAdjust="spacingAndGlyphs">−0.2</text>
<line x1="164.10" y1="533.20" x2="164.10" y2="540.60" stroke="#222" stroke-width="1.1"/>
<text x="154.80" y="552.20" font-size="12.40" text-anchor="start" font-weight="normal" fill="#000" font-family="Liberation Sans" textLength="18.60" lengthAdjust="spacingAndGlyphs">0.0</text>
<line x1="227.90" y1="533.20" x2="227.90" y2="540.60" stroke="#222" stroke-width="1.1"/>
<text x="218.60" y="552.20" font-size="12.40" text-anchor="start" font-weight="normal" fill="#000" font-family="Liberation Sans" textLength="18.60" lengthAdjust="spacingAndGlyphs">0.2</text>
<text x="98.60" y="569.60" font-size="16.20" text-anchor="start" font-weight="normal" fill="#000" font-family="Liberation Sans" textLength="128.50" lengthAdjust="spacingAndGlyphs">Cosine similarity</text>
<path d="M284.90,354.60 C289.68,354.50 307.63,354.20 313.60,354.00 C319.57,353.80 318.32,353.73 320.70,353.40 C323.08,353.07 325.52,352.52 327.90,352.00 C330.28,351.48 332.63,350.95 335.00,350.30 C337.37,349.65 339.72,348.93 342.10,348.10 C344.48,347.27 346.92,346.30 349.30,345.30 C351.68,344.30 354.02,342.98 356.40,342.10 C358.78,341.22 361.22,340.53 363.60,340.00 C365.98,339.47 368.32,339.38 370.70,338.90 C373.08,338.42 376.18,337.53 377.90,337.10 C379.62,336.67 379.30,336.60 381.00,336.30 C382.70,336.00 385.72,335.23 388.10,335.30 C390.48,335.37 392.92,335.87 395.30,336.70 C397.68,337.53 400.02,339.18 402.40,340.30 C404.78,341.42 407.22,342.50 409.60,343.40 C411.98,344.30 414.32,344.78 416.70,345.70 C419.08,346.62 421.52,347.90 423.90,348.90 C426.28,349.90 428.63,350.95 431.00,351.70 C433.37,352.45 435.72,353.00 438.10,353.40 C440.48,353.80 441.72,353.90 445.30,354.10 C448.88,354.30 454.38,354.52 459.60,354.60 C464.82,354.68 473.77,354.60 476.60,354.60 L476.60,354.60 L284.90,354.60 Z" fill="#eaa6a6" stroke="none"/>
<line x1="284.90" y1="354.60" x2="476.60" y2="354.60" stroke="#e36363" stroke-width="1.6"/>
<path d="M284.90,354.60 C289.68,354.50 307.63,354.20 313.60,354.00 C319.57,353.80 318.32,353.73 320.70,353.40 C323.08,353.07 325.52,352.52 327.90,352.00 C330.28,351.48 332.63,350.95 335.00,350.30 C337.37,349.65 339.72,348.93 342.10,348.10 C344.48,347.27 346.92,346.30 349.30,345.30 C351.68,344.30 354.02,342.98 356.40,342.10 C358.78,341.22 361.22,340.53 363.60,340.00 C365.98,339.47 368.32,339.38 370.70,338.90 C373.08,338.42 376.18,337.53 377.90,337.10 C379.62,336.67 379.30,336.60 381.00,336.30 C382.70,336.00 385.72,335.23 388.10,335.30 C390.48,335.37 392.92,335.87 395.30,336.70 C397.68,337.53 400.02,339.18 402.40,340.30 C404.78,341.42 407.22,342.50 409.60,343.40 C411.98,344.30 414.32,344.78 416.70,345.70 C419.08,346.62 421.52,347.90 423.90,348.90 C426.28,349.90 428.63,350.95 431.00,351.70 C433.37,352.45 435.72,353.00 438.10,353.40 C440.48,353.80 441.72,353.90 445.30,354.10 C448.88,354.30 454.38,354.52 459.60,354.60 C464.82,354.68 473.77,354.60 476.60,354.60" fill="none" stroke="#1a1a1a" stroke-opacity="0.8" stroke-width="1.7" stroke-linejoin="round"/>
<rect x="370.25" y="329.70" width="3.5" height="26.4" fill="#e05050"/>
<path d="M284.90,383.88 C290.87,383.88 313.53,384.01 320.70,383.88 C327.87,383.75 325.52,383.46 327.90,383.10 C330.28,382.74 332.63,382.22 335.00,381.70 C337.37,381.18 339.72,380.83 342.10,380.00 C344.48,379.17 346.92,378.20 349.30,376.70 C351.68,375.20 354.02,372.90 356.40,371.00 C358.78,369.10 361.22,367.02 363.60,365.30 C365.98,363.58 368.32,361.90 370.70,360.70 C373.08,359.50 376.18,358.48 377.90,358.10 C379.62,357.72 379.30,358.03 381.00,358.40 C382.70,358.77 385.72,359.15 388.10,360.30 C390.48,361.45 392.92,363.40 395.30,365.30 C397.68,367.20 400.02,369.92 402.40,371.70 C404.78,373.48 407.22,374.57 409.60,376.00 C411.98,377.43 414.32,379.20 416.70,380.30 C419.08,381.40 421.52,382.08 423.90,382.60 C426.28,383.12 427.43,383.19 431.00,383.40 C434.57,383.61 437.70,383.80 445.30,383.88 C452.90,383.96 471.38,383.88 476.60,383.88 L476.60,383.88 L284.90,383.88 Z" fill="#ede5a5" stroke="none"/>
<line x1="284.90" y1="383.88" x2="476.60" y2="383.88" stroke="#e2d75a" stroke-width="1.6"/>
<path d="M284.90,383.88 C290.87,383.88 313.53,384.01 320.70,383.88 C327.87,383.75 325.52,383.46 327.90,383.10 C330.28,382.74 332.63,382.22 335.00,381.70 C337.37,381.18 339.72,380.83 342.10,380.00 C344.48,379.17 346.92,378.20 349.30,376.70 C351.68,375.20 354.02,372.90 356.40,371.00 C358.78,369.10 361.22,367.02 363.60,365.30 C365.98,363.58 368.32,361.90 370.70,360.70 C373.08,359.50 376.18,358.48 377.90,358.10 C379.62,357.72 379.30,358.03 381.00,358.40 C382.70,358.77 385.72,359.15 388.10,360.30 C390.48,361.45 392.92,363.40 395.30,365.30 C397.68,367.20 400.02,369.92 402.40,371.70 C404.78,373.48 407.22,374.57 409.60,376.00 C411.98,377.43 414.32,379.20 416.70,380.30 C419.08,381.40 421.52,382.08 423.90,382.60 C426.28,383.12 427.43,383.19 431.00,383.40 C434.57,383.61 437.70,383.80 445.30,383.88 C452.90,383.96 471.38,383.88 476.60,383.88" fill="none" stroke="#1a1a1a" stroke-opacity="0.8" stroke-width="1.7" stroke-linejoin="round"/>
<rect x="414.95" y="358.98" width="3.5" height="26.4" fill="#dccf45"/>
<text x="420.20" y="369.88" font-size="14.00" text-anchor="start" font-weight="normal" fill="#333" font-family="Liberation Sans" textLength="5.80" lengthAdjust="spacingAndGlyphs">*</text>
<path d="M284.90,413.16 C288.48,413.13 301.62,413.09 306.40,413.00 C311.18,412.91 311.22,412.82 313.60,412.60 C315.98,412.38 318.32,412.08 320.70,411.70 C323.08,411.32 325.52,410.82 327.90,410.30 C330.28,409.78 332.63,409.20 335.00,408.60 C337.37,408.00 339.72,407.48 342.10,406.70 C344.48,405.92 346.92,405.08 349.30,403.90 C351.68,402.72 354.02,400.73 356.40,399.60 C358.78,398.47 361.22,397.75 363.60,397.10 C365.98,396.45 368.32,396.17 370.70,395.70 C373.08,395.23 375.23,394.55 377.90,394.30 C380.57,394.05 383.80,393.85 386.70,394.20 C389.60,394.55 392.68,395.55 395.30,396.40 C397.92,397.25 400.02,398.30 402.40,399.30 C404.78,400.30 407.22,401.40 409.60,402.40 C411.98,403.40 414.32,404.35 416.70,405.30 C419.08,406.25 421.52,407.20 423.90,408.10 C426.28,409.00 428.63,410.03 431.00,410.70 C433.37,411.37 435.72,411.73 438.10,412.10 C440.48,412.47 438.88,412.72 445.30,412.90 C451.72,413.08 471.38,413.12 476.60,413.16 L476.60,413.16 L284.90,413.16 Z" fill="#b9dba6" stroke="none"/>
<line x1="284.90" y1="413.16" x2="476.60" y2="413.16" stroke="#7cc35a" stroke-width="1.6"/>
<path d="M284.90,413.16 C288.48,413.13 301.62,413.09 306.40,413.00 C311.18,412.91 311.22,412.82 313.60,412.60 C315.98,412.38 318.32,412.08 320.70,411.70 C323.08,411.32 325.52,410.82 327.90,410.30 C330.28,409.78 332.63,409.20 335.00,408.60 C337.37,408.00 339.72,407.48 342.10,406.70 C344.48,405.92 346.92,405.08 349.30,403.90 C351.68,402.72 354.02,400.73 356.40,399.60 C358.78,398.47 361.22,397.75 363.60,397.10 C365.98,396.45 368.32,396.17 370.70,395.70 C373.08,395.23 375.23,394.55 377.90,394.30 C380.57,394.05 383.80,393.85 386.70,394.20 C389.60,394.55 392.68,395.55 395.30,396.40 C397.92,397.25 400.02,398.30 402.40,399.30 C404.78,400.30 407.22,401.40 409.60,402.40 C411.98,403.40 414.32,404.35 416.70,405.30 C419.08,406.25 421.52,407.20 423.90,408.10 C426.28,409.00 428.63,410.03 431.00,410.70 C433.37,411.37 435.72,411.73 438.10,412.10 C440.48,412.47 438.88,412.72 445.30,412.90 C451.72,413.08 471.38,413.12 476.60,413.16" fill="none" stroke="#1a1a1a" stroke-opacity="0.8" stroke-width="1.7" stroke-linejoin="round"/>
<rect x="421.85" y="388.26" width="3.5" height="26.4" fill="#6dbb48"/>
<path d="M284.90,442.44 C288.48,442.38 301.62,442.22 306.40,442.10 C311.18,441.98 311.22,441.93 313.60,441.70 C315.98,441.47 318.32,441.15 320.70,440.70 C323.08,440.25 325.52,439.67 327.90,439.00 C330.28,438.33 332.63,437.42 335.00,436.70 C337.37,435.98 339.72,435.33 342.10,434.70 C344.48,434.07 346.92,433.68 349.30,432.90 C351.68,432.12 354.02,431.03 356.40,430.00 C358.78,428.97 361.22,427.53 363.60,426.70 C365.98,425.87 368.32,425.40 370.70,425.00 C373.08,424.60 375.85,424.42 377.90,424.30 C379.95,424.18 381.30,424.25 383.00,424.30 C384.70,424.35 386.05,424.25 388.10,424.60 C390.15,424.95 392.92,425.57 395.30,426.40 C397.68,427.23 400.02,428.57 402.40,429.60 C404.78,430.63 407.22,431.65 409.60,432.60 C411.98,433.55 414.32,434.38 416.70,435.30 C419.08,436.22 421.52,437.27 423.90,438.10 C426.28,438.93 428.63,439.75 431.00,440.30 C433.37,440.85 435.72,441.10 438.10,441.40 C440.48,441.70 438.88,441.93 445.30,442.10 C451.72,442.27 471.38,442.38 476.60,442.44 L476.60,442.44 L284.90,442.44 Z" fill="#a9dcc6" stroke="none"/>
<line x1="284.90" y1="442.44" x2="476.60" y2="442.44" stroke="#6cc59e" stroke-width="1.6"/>
<path d="M284.90,442.44 C288.48,442.38 301.62,442.22 306.40,442.10 C311.18,441.98 311.22,441.93 313.60,441.70 C315.98,441.47 318.32,441.15 320.70,440.70 C323.08,440.25 325.52,439.67 327.90,439.00 C330.28,438.33 332.63,437.42 335.00,436.70 C337.37,435.98 339.72,435.33 342.10,434.70 C344.48,434.07 346.92,433.68 349.30,432.90 C351.68,432.12 354.02,431.03 356.40,430.00 C358.78,428.97 361.22,427.53 363.60,426.70 C365.98,425.87 368.32,425.40 370.70,425.00 C373.08,424.60 375.85,424.42 377.90,424.30 C379.95,424.18 381.30,424.25 383.00,424.30 C384.70,424.35 386.05,424.25 388.10,424.60 C390.15,424.95 392.92,425.57 395.30,426.40 C397.68,427.23 400.02,428.57 402.40,429.60 C404.78,430.63 407.22,431.65 409.60,432.60 C411.98,433.55 414.32,434.38 416.70,435.30 C419.08,436.22 421.52,437.27 423.90,438.10 C426.28,438.93 428.63,439.75 431.00,440.30 C433.37,440.85 435.72,441.10 438.10,441.40 C440.48,441.70 438.88,441.93 445.30,442.10 C451.72,442.27 471.38,442.38 476.60,442.44" fill="none" stroke="#1a1a1a" stroke-opacity="0.8" stroke-width="1.7" stroke-linejoin="round"/>
<rect x="452.25" y="417.54" width="3.5" height="26.4" fill="#5dbb92"/>
<text x="457.50" y="428.44" font-size="14.00" text-anchor="start" font-weight="normal" fill="#333" font-family="Liberation Sans" textLength="11.30" lengthAdjust="spacingAndGlyphs">**</text>
<path d="M284.90,471.72 C287.30,471.70 294.52,471.77 299.30,471.60 C304.08,471.43 308.83,471.02 313.60,470.70 C318.37,470.38 324.33,469.97 327.90,469.70 C331.47,469.43 332.63,469.57 335.00,469.10 C337.37,468.63 339.72,467.80 342.10,466.90 C344.48,466.00 346.92,464.78 349.30,463.70 C351.68,462.62 354.02,461.50 356.40,460.40 C358.78,459.30 361.22,458.12 363.60,457.10 C365.98,456.08 368.32,455.05 370.70,454.30 C373.08,453.55 375.85,452.98 377.90,452.60 C379.95,452.22 381.32,452.10 383.00,452.00 C384.68,451.90 385.95,451.67 388.00,452.00 C390.05,452.33 392.90,453.07 395.30,454.00 C397.70,454.93 400.02,456.42 402.40,457.60 C404.78,458.78 407.22,459.92 409.60,461.10 C411.98,462.28 414.32,463.62 416.70,464.70 C419.08,465.78 421.52,466.77 423.90,467.60 C426.28,468.43 428.63,469.15 431.00,469.70 C433.37,470.25 435.72,470.62 438.10,470.90 C440.48,471.18 438.88,471.26 445.30,471.40 C451.72,471.54 471.38,471.67 476.60,471.72 L476.60,471.72 L284.90,471.72 Z" fill="#a9c9ea" stroke="none"/>
<line x1="284.90" y1="471.72" x2="476.60" y2="471.72" stroke="#5a9ddf" stroke-width="1.6"/>
<path d="M284.90,471.72 C287.30,471.70 294.52,471.77 299.30,471.60 C304.08,471.43 308.83,471.02 313.60,470.70 C318.37,470.38 324.33,469.97 327.90,469.70 C331.47,469.43 332.63,469.57 335.00,469.10 C337.37,468.63 339.72,467.80 342.10,466.90 C344.48,466.00 346.92,464.78 349.30,463.70 C351.68,462.62 354.02,461.50 356.40,460.40 C358.78,459.30 361.22,458.12 363.60,457.10 C365.98,456.08 368.32,455.05 370.70,454.30 C373.08,453.55 375.85,452.98 377.90,452.60 C379.95,452.22 381.32,452.10 383.00,452.00 C384.68,451.90 385.95,451.67 388.00,452.00 C390.05,452.33 392.90,453.07 395.30,454.00 C397.70,454.93 400.02,456.42 402.40,457.60 C404.78,458.78 407.22,459.92 409.60,461.10 C411.98,462.28 414.32,463.62 416.70,464.70 C419.08,465.78 421.52,466.77 423.90,467.60 C426.28,468.43 428.63,469.15 431.00,469.70 C433.37,470.25 435.72,470.62 438.10,470.90 C440.48,471.18 438.88,471.26 445.30,471.40 C451.72,471.54 471.38,471.67 476.60,471.72" fill="none" stroke="#1a1a1a" stroke-opacity="0.8" stroke-width="1.7" stroke-linejoin="round"/>
<rect x="402.25" y="446.82" width="3.5" height="26.4" fill="#4a8fd6"/>
<path d="M284.90,501.00 C287.30,500.93 295.72,500.82 299.30,500.60 C302.88,500.38 304.02,500.02 306.40,499.70 C308.78,499.38 311.22,498.98 313.60,498.70 C315.98,498.42 318.32,498.30 320.70,498.00 C323.08,497.70 325.52,497.38 327.90,496.90 C330.28,496.42 332.63,495.70 335.00,495.10 C337.37,494.50 339.72,493.88 342.10,493.30 C344.48,492.72 346.92,492.20 349.30,491.60 C351.68,491.00 354.02,490.45 356.40,489.70 C358.78,488.95 361.22,487.93 363.60,487.10 C365.98,486.27 368.32,485.33 370.70,484.70 C373.08,484.07 376.18,483.53 377.90,483.30 C379.62,483.07 379.30,483.18 381.00,483.30 C382.70,483.42 385.72,483.53 388.10,484.00 C390.48,484.47 392.92,485.33 395.30,486.10 C397.68,486.87 400.02,487.83 402.40,488.60 C404.78,489.37 407.22,489.98 409.60,490.70 C411.98,491.42 414.32,492.12 416.70,492.90 C419.08,493.68 421.52,494.55 423.90,495.40 C426.28,496.25 428.63,497.28 431.00,498.00 C433.37,498.72 435.72,499.27 438.10,499.70 C440.48,500.13 438.88,500.38 445.30,500.60 C451.72,500.82 471.38,500.93 476.60,501.00 L476.60,501.00 L284.90,501.00 Z" fill="#b0a4d4" stroke="none"/>
<line x1="284.90" y1="501.00" x2="476.60" y2="501.00" stroke="#7a64b8" stroke-width="1.6"/>
<path d="M284.90,501.00 C287.30,500.93 295.72,500.82 299.30,500.60 C302.88,500.38 304.02,500.02 306.40,499.70 C308.78,499.38 311.22,498.98 313.60,498.70 C315.98,498.42 318.32,498.30 320.70,498.00 C323.08,497.70 325.52,497.38 327.90,496.90 C330.28,496.42 332.63,495.70 335.00,495.10 C337.37,494.50 339.72,493.88 342.10,493.30 C344.48,492.72 346.92,492.20 349.30,491.60 C351.68,491.00 354.02,490.45 356.40,489.70 C358.78,488.95 361.22,487.93 363.60,487.10 C365.98,486.27 368.32,485.33 370.70,484.70 C373.08,484.07 376.18,483.53 377.90,483.30 C379.62,483.07 379.30,483.18 381.00,483.30 C382.70,483.42 385.72,483.53 388.10,484.00 C390.48,484.47 392.92,485.33 395.30,486.10 C397.68,486.87 400.02,487.83 402.40,488.60 C404.78,489.37 407.22,489.98 409.60,490.70 C411.98,491.42 414.32,492.12 416.70,492.90 C419.08,493.68 421.52,494.55 423.90,495.40 C426.28,496.25 428.63,497.28 431.00,498.00 C433.37,498.72 435.72,499.27 438.10,499.70 C440.48,500.13 438.88,500.38 445.30,500.60 C451.72,500.82 471.38,500.93 476.60,501.00" fill="none" stroke="#1a1a1a" stroke-opacity="0.8" stroke-width="1.7" stroke-linejoin="round"/>
<rect x="378.45" y="476.10" width="3.5" height="26.4" fill="#5e44a5"/>
<path d="M284.90,530.28 C289.68,530.23 307.63,530.11 313.60,530.00 C319.57,529.89 318.32,529.83 320.70,529.60 C323.08,529.37 325.52,529.02 327.90,528.60 C330.28,528.18 332.63,527.70 335.00,527.10 C337.37,526.50 339.72,525.83 342.10,525.00 C344.48,524.17 346.92,523.28 349.30,522.10 C351.68,520.92 354.02,519.32 356.40,517.90 C358.78,516.48 361.45,514.73 363.60,513.60 C365.75,512.47 366.92,511.70 369.30,511.10 C371.68,510.50 375.00,510.37 377.90,510.00 C380.80,509.63 384.28,508.85 386.70,508.90 C389.12,508.95 390.25,509.40 392.40,510.30 C394.55,511.20 397.22,512.80 399.60,514.30 C401.98,515.80 404.32,517.75 406.70,519.30 C409.08,520.85 411.52,522.42 413.90,523.60 C416.28,524.78 418.63,525.62 421.00,526.40 C423.37,527.18 425.72,527.80 428.10,528.30 C430.48,528.80 432.43,529.12 435.30,529.40 C438.17,529.68 438.42,529.85 445.30,530.00 C452.18,530.15 471.38,530.23 476.60,530.28 L476.60,530.28 L284.90,530.28 Z" fill="#deaacf" stroke="none"/>
<line x1="284.90" y1="530.28" x2="476.60" y2="530.28" stroke="#d070b8" stroke-width="1.6"/>
<path d="M284.90,530.28 C289.68,530.23 307.63,530.11 313.60,530.00 C319.57,529.89 318.32,529.83 320.70,529.60 C323.08,529.37 325.52,529.02 327.90,528.60 C330.28,528.18 332.63,527.70 335.00,527.10 C337.37,526.50 339.72,525.83 342.10,525.00 C344.48,524.17 346.92,523.28 349.30,522.10 C351.68,520.92 354.02,519.32 356.40,517.90 C358.78,516.48 361.45,514.73 363.60,513.60 C365.75,512.47 366.92,511.70 369.30,511.10 C371.68,510.50 375.00,510.37 377.90,510.00 C380.80,509.63 384.28,508.85 386.70,508.90 C389.12,508.95 390.25,509.40 392.40,510.30 C394.55,511.20 397.22,512.80 399.60,514.30 C401.98,515.80 404.32,517.75 406.70,519.30 C409.08,520.85 411.52,522.42 413.90,523.60 C416.28,524.78 418.63,525.62 421.00,526.40 C423.37,527.18 425.72,527.80 428.10,528.30 C430.48,528.80 432.43,529.12 435.30,529.40 C438.17,529.68 438.42,529.85 445.30,530.00 C452.18,530.15 471.38,530.23 476.60,530.28" fill="none" stroke="#1a1a1a" stroke-opacity="0.8" stroke-width="1.7" stroke-linejoin="round"/>
<rect x="351.15" y="505.38" width="3.5" height="26.4" fill="#c250a8"/>
<line x1="284.90" y1="324.40" x2="284.90" y2="530.98" stroke="#333" stroke-width="1.5"/>
<line x1="317.10" y1="533.20" x2="317.10" y2="540.60" stroke="#222" stroke-width="1.1"/>
<text x="298.15" y="552.20" font-size="12.40" text-anchor="start" font-weight="normal" fill="#000" font-family="Liberation Sans" textLength="27.90" lengthAdjust="spacingAndGlyphs">−0.2</text>
<line x1="380.90" y1="533.20" x2="380.90" y2="540.60" stroke="#222" stroke-width="1.1"/>
<text x="371.60" y="552.20" font-size="12.40" text-anchor="start" font-weight="normal" fill="#000" font-family="Liberation Sans" textLength="18.60" lengthAdjust="spacingAndGlyphs">0.0</text>
<line x1="444.70" y1="533.20" x2="444.70" y2="540.60" stroke="#222" stroke-width="1.1"/>
<text x="435.40" y="552.20" font-size="12.40" text-anchor="start" font-weight="normal" fill="#000" font-family="Liberation Sans" textLength="18.60" lengthAdjust="spacingAndGlyphs">0.2</text>
<text x="315.40" y="569.60" font-size="16.20" text-anchor="start" font-weight="normal" fill="#000" font-family="Liberation Sans" textLength="128.50" lengthAdjust="spacingAndGlyphs">Cosine similarity</text>
<path d="M502.20,354.60 C505.73,354.55 517.48,354.50 523.40,354.30 C529.32,354.10 534.12,353.68 537.70,353.40 C541.28,353.12 542.52,352.95 544.90,352.60 C547.28,352.25 549.63,351.80 552.00,351.30 C554.37,350.80 556.72,350.30 559.10,349.60 C561.48,348.90 563.92,347.88 566.30,347.10 C568.68,346.32 571.02,345.60 573.40,344.90 C575.78,344.20 578.22,343.60 580.60,342.90 C582.98,342.20 585.57,341.25 587.70,340.70 C589.83,340.15 591.68,339.77 593.40,339.60 C595.12,339.43 596.05,339.53 598.00,339.70 C599.95,339.87 602.72,340.27 605.10,340.60 C607.48,340.93 609.92,341.23 612.30,341.70 C614.68,342.17 617.02,342.68 619.40,343.40 C621.78,344.12 624.22,345.08 626.60,346.00 C628.98,346.92 631.32,348.07 633.70,348.90 C636.08,349.73 638.52,350.37 640.90,351.00 C643.28,351.63 645.63,352.22 648.00,352.70 C650.37,353.18 652.72,353.62 655.10,353.90 C657.48,354.18 655.88,354.28 662.30,354.40 C668.72,354.52 688.38,354.57 693.60,354.60 L693.60,354.60 L502.20,354.60 Z" fill="#eaa6a6" stroke="none"/>
<line x1="502.20" y1="354.60" x2="693.60" y2="354.60" stroke="#e36363" stroke-width="1.6"/>
<path d="M502.20,354.60 C505.73,354.55 517.48,354.50 523.40,354.30 C529.32,354.10 534.12,353.68 537.70,353.40 C541.28,353.12 542.52,352.95 544.90,352.60 C547.28,352.25 549.63,351.80 552.00,351.30 C554.37,350.80 556.72,350.30 559.10,349.60 C561.48,348.90 563.92,347.88 566.30,347.10 C568.68,346.32 571.02,345.60 573.40,344.90 C575.78,344.20 578.22,343.60 580.60,342.90 C582.98,342.20 585.57,341.25 587.70,340.70 C589.83,340.15 591.68,339.77 593.40,339.60 C595.12,339.43 596.05,339.53 598.00,339.70 C599.95,339.87 602.72,340.27 605.10,340.60 C607.48,340.93 609.92,341.23 612.30,341.70 C614.68,342.17 617.02,342.68 619.40,343.40 C621.78,344.12 624.22,345.08 626.60,346.00 C628.98,346.92 631.32,348.07 633.70,348.90 C636.08,349.73 638.52,350.37 640.90,351.00 C643.28,351.63 645.63,352.22 648.00,352.70 C650.37,353.18 652.72,353.62 655.10,353.90 C657.48,354.18 655.88,354.28 662.30,354.40 C668.72,354.52 688.38,354.57 693.60,354.60" fill="none" stroke="#1a1a1a" stroke-opacity="0.8" stroke-width="1.7" stroke-linejoin="round"/>
<rect x="615.55" y="329.70" width="3.5" height="26.4" fill="#e05050"/>
<path d="M502.20,383.88 C511.22,383.88 546.33,384.01 556.30,383.88 C566.27,383.75 559.87,383.70 562.00,383.10 C564.13,382.50 566.72,381.60 569.10,380.30 C571.48,379.00 573.92,377.45 576.30,375.30 C578.68,373.15 581.27,369.67 583.40,367.40 C585.53,365.13 587.18,363.17 589.10,361.70 C591.02,360.23 593.42,359.08 594.90,358.60 C596.38,358.12 596.53,358.40 598.00,358.80 C599.47,359.20 601.80,359.80 603.70,361.00 C605.60,362.20 607.50,364.22 609.40,366.00 C611.30,367.78 613.18,369.92 615.10,371.70 C617.02,373.48 618.98,375.27 620.90,376.70 C622.82,378.13 624.47,379.32 626.60,380.30 C628.73,381.28 631.32,382.08 633.70,382.60 C636.08,383.12 637.33,383.19 640.90,383.40 C644.47,383.61 646.32,383.80 655.10,383.88 C663.88,383.96 687.18,383.88 693.60,383.88 L693.60,383.88 L502.20,383.88 Z" fill="#ede5a5" stroke="none"/>
<line x1="502.20" y1="383.88" x2="693.60" y2="383.88" stroke="#e2d75a" stroke-width="1.6"/>
<path d="M502.20,383.88 C511.22,383.88 546.33,384.01 556.30,383.88 C566.27,383.75 559.87,383.70 562.00,383.10 C564.13,382.50 566.72,381.60 569.10,380.30 C571.48,379.00 573.92,377.45 576.30,375.30 C578.68,373.15 581.27,369.67 583.40,367.40 C585.53,365.13 587.18,363.17 589.10,361.70 C591.02,360.23 593.42,359.08 594.90,358.60 C596.38,358.12 596.53,358.40 598.00,358.80 C599.47,359.20 601.80,359.80 603.70,361.00 C605.60,362.20 607.50,364.22 609.40,366.00 C611.30,367.78 613.18,369.92 615.10,371.70 C617.02,373.48 618.98,375.27 620.90,376.70 C622.82,378.13 624.47,379.32 626.60,380.30 C628.73,381.28 631.32,382.08 633.70,382.60 C636.08,383.12 637.33,383.19 640.90,383.40 C644.47,383.61 646.32,383.80 655.10,383.88 C663.88,383.96 687.18,383.88 693.60,383.88" fill="none" stroke="#1a1a1a" stroke-opacity="0.8" stroke-width="1.7" stroke-linejoin="round"/>
<rect x="617.55" y="358.98" width="3.5" height="26.4" fill="#dccf45"/>
<path d="M502.20,413.16 C508.12,413.15 530.58,413.19 537.70,413.10 C544.82,413.01 542.52,412.95 544.90,412.60 C547.28,412.25 549.63,411.62 552.00,411.00 C554.37,410.38 556.72,409.72 559.10,408.90 C561.48,408.08 563.92,407.03 566.30,406.10 C568.68,405.17 571.02,404.43 573.40,403.30 C575.78,402.17 578.22,400.63 580.60,399.30 C582.98,397.97 585.32,396.08 587.70,395.30 C590.08,394.52 592.47,394.77 594.90,394.60 C597.33,394.43 600.12,394.00 602.30,394.30 C604.48,394.60 605.87,395.33 608.00,396.40 C610.13,397.47 612.72,399.38 615.10,400.70 C617.48,402.02 619.92,403.30 622.30,404.30 C624.68,405.30 627.02,405.82 629.40,406.70 C631.78,407.58 634.22,408.73 636.60,409.60 C638.98,410.47 641.32,411.35 643.70,411.90 C646.08,412.45 647.80,412.70 650.90,412.90 C654.00,413.10 655.18,413.06 662.30,413.10 C669.42,413.14 688.38,413.15 693.60,413.16 L693.60,413.16 L502.20,413.16 Z" fill="#b9dba6" stroke="none"/>
<line x1="502.20" y1="413.16" x2="693.60" y2="413.16" stroke="#7cc35a" stroke-width="1.6"/>
<path d="M502.20,413.16 C508.12,413.15 530.58,413.19 537.70,413.10 C544.82,413.01 542.52,412.95 544.90,412.60 C547.28,412.25 549.63,411.62 552.00,411.00 C554.37,410.38 556.72,409.72 559.10,408.90 C561.48,408.08 563.92,407.03 566.30,406.10 C568.68,405.17 571.02,404.43 573.40,403.30 C575.78,402.17 578.22,400.63 580.60,399.30 C582.98,397.97 585.32,396.08 587.70,395.30 C590.08,394.52 592.47,394.77 594.90,394.60 C597.33,394.43 600.12,394.00 602.30,394.30 C604.48,394.60 605.87,395.33 608.00,396.40 C610.13,397.47 612.72,399.38 615.10,400.70 C617.48,402.02 619.92,403.30 622.30,404.30 C624.68,405.30 627.02,405.82 629.40,406.70 C631.78,407.58 634.22,408.73 636.60,409.60 C638.98,410.47 641.32,411.35 643.70,411.90 C646.08,412.45 647.80,412.70 650.90,412.90 C654.00,413.10 655.18,413.06 662.30,413.10 C669.42,413.14 688.38,413.15 693.60,413.16" fill="none" stroke="#1a1a1a" stroke-opacity="0.8" stroke-width="1.7" stroke-linejoin="round"/>
<rect x="589.65" y="388.26" width="3.5" height="26.4" fill="#6dbb48"/>
<path d="M502.20,442.44 C509.32,442.44 536.60,442.73 544.90,442.44 C553.20,442.15 549.63,441.42 552.00,440.70 C554.37,439.98 556.72,438.93 559.10,438.10 C561.48,437.27 563.92,436.57 566.30,435.70 C568.68,434.83 571.02,434.20 573.40,432.90 C575.78,431.60 578.22,429.50 580.60,427.90 C582.98,426.30 585.32,424.38 587.70,423.30 C590.08,422.22 593.18,421.63 594.90,421.40 C596.62,421.17 596.77,421.65 598.00,421.90 C599.23,422.15 600.63,422.15 602.30,422.90 C603.97,423.65 605.87,425.10 608.00,426.40 C610.13,427.70 612.72,429.45 615.10,430.70 C617.48,431.95 619.92,432.90 622.30,433.90 C624.68,434.90 627.02,435.68 629.40,436.70 C631.78,437.72 634.22,439.13 636.60,440.00 C638.98,440.87 640.62,441.50 643.70,441.90 C646.78,442.30 646.78,442.31 655.10,442.40 C663.42,442.49 687.18,442.43 693.60,442.44 L693.60,442.44 L502.20,442.44 Z" fill="#a9dcc6" stroke="none"/>
<line x1="502.20" y1="442.44" x2="693.60" y2="442.44" stroke="#6cc59e" stroke-width="1.6"/>
<path d="M502.20,442.44 C509.32,442.44 536.60,442.73 544.90,442.44 C553.20,442.15 549.63,441.42 552.00,440.70 C554.37,439.98 556.72,438.93 559.10,438.10 C561.48,437.27 563.92,436.57 566.30,435.70 C568.68,434.83 571.02,434.20 573.40,432.90 C575.78,431.60 578.22,429.50 580.60,427.90 C582.98,426.30 585.32,424.38 587.70,423.30 C590.08,422.22 593.18,421.63 594.90,421.40 C596.62,421.17 596.77,421.65 598.00,421.90 C599.23,422.15 600.63,422.15 602.30,422.90 C603.97,423.65 605.87,425.10 608.00,426.40 C610.13,427.70 612.72,429.45 615.10,430.70 C617.48,431.95 619.92,432.90 622.30,433.90 C624.68,434.90 627.02,435.68 629.40,436.70 C631.78,437.72 634.22,439.13 636.60,440.00 C638.98,440.87 640.62,441.50 643.70,441.90 C646.78,442.30 646.78,442.31 655.10,442.40 C663.42,442.49 687.18,442.43 693.60,442.44" fill="none" stroke="#1a1a1a" stroke-opacity="0.8" stroke-width="1.7" stroke-linejoin="round"/>
<rect x="632.55" y="417.54" width="3.5" height="26.4" fill="#5dbb92"/>
<text x="637.70" y="428.44" font-size="14.00" text-anchor="start" font-weight="normal" fill="#333" font-family="Liberation Sans" textLength="5.70" lengthAdjust="spacingAndGlyphs">*</text>
<path d="M502.20,471.72 C505.73,471.72 518.67,471.77 523.40,471.72 C528.13,471.67 528.22,471.62 530.60,471.40 C532.98,471.18 535.32,470.75 537.70,470.40 C540.08,470.05 542.52,469.77 544.90,469.30 C547.28,468.83 549.63,468.20 552.00,467.60 C554.37,467.00 556.72,466.42 559.10,465.70 C561.48,464.98 563.92,464.10 566.30,463.30 C568.68,462.50 571.02,461.62 573.40,460.90 C575.78,460.18 578.22,459.55 580.60,459.00 C582.98,458.45 585.32,457.95 587.70,457.60 C590.08,457.25 592.85,457.05 594.90,456.90 C596.95,456.75 598.53,456.67 600.00,456.70 C601.47,456.73 602.13,456.83 603.70,457.10 C605.27,457.37 607.25,457.63 609.40,458.30 C611.55,458.97 614.22,460.15 616.60,461.10 C618.98,462.05 621.32,463.17 623.70,464.00 C626.08,464.83 628.52,465.43 630.90,466.10 C633.28,466.77 635.63,467.40 638.00,468.00 C640.37,468.60 642.72,469.22 645.10,469.70 C647.48,470.18 649.43,470.58 652.30,470.90 C655.17,471.22 655.42,471.46 662.30,471.60 C669.18,471.74 688.38,471.70 693.60,471.72 L693.60,471.72 L502.20,471.72 Z" fill="#a9c9ea" stroke="none"/>
<line x1="502.20" y1="471.72" x2="693.60" y2="471.72" stroke="#5a9ddf" stroke-width="1.6"/>
<path d="M502.20,471.72 C505.73,471.72 518.67,471.77 523.40,471.72 C528.13,471.67 528.22,471.62 530.60,471.40 C532.98,471.18 535.32,470.75 537.70,470.40 C540.08,470.05 542.52,469.77 544.90,469.30 C547.28,468.83 549.63,468.20 552.00,467.60 C554.37,467.00 556.72,466.42 559.10,465.70 C561.48,464.98 563.92,464.10 566.30,463.30 C568.68,462.50 571.02,461.62 573.40,460.90 C575.78,460.18 578.22,459.55 580.60,459.00 C582.98,458.45 585.32,457.95 587.70,457.60 C590.08,457.25 592.85,457.05 594.90,456.90 C596.95,456.75 598.53,456.67 600.00,456.70 C601.47,456.73 602.13,456.83 603.70,457.10 C605.27,457.37 607.25,457.63 609.40,458.30 C611.55,458.97 614.22,460.15 616.60,461.10 C618.98,462.05 621.32,463.17 623.70,464.00 C626.08,464.83 628.52,465.43 630.90,466.10 C633.28,466.77 635.63,467.40 638.00,468.00 C640.37,468.60 642.72,469.22 645.10,469.70 C647.48,470.18 649.43,470.58 652.30,470.90 C655.17,471.22 655.42,471.46 662.30,471.60 C669.18,471.74 688.38,471.70 693.60,471.72" fill="none" stroke="#1a1a1a" stroke-opacity="0.8" stroke-width="1.7" stroke-linejoin="round"/>
<rect x="610.45" y="446.82" width="3.5" height="26.4" fill="#4a8fd6"/>
<path d="M502.20,501.00 C505.73,501.00 518.67,501.05 523.40,501.00 C528.13,500.95 528.22,500.87 530.60,500.70 C532.98,500.53 535.32,500.33 537.70,500.00 C540.08,499.67 542.52,499.18 544.90,498.70 C547.28,498.22 549.63,497.70 552.00,497.10 C554.37,496.50 556.72,495.78 559.10,495.10 C561.48,494.42 563.92,493.67 566.30,493.00 C568.68,492.33 571.02,491.70 573.40,491.10 C575.78,490.50 578.22,489.75 580.60,489.40 C582.98,489.05 585.32,489.12 587.70,489.00 C590.08,488.88 592.85,488.77 594.90,488.70 C596.95,488.63 598.30,488.62 600.00,488.60 C601.70,488.58 603.05,488.47 605.10,488.60 C607.15,488.73 609.92,488.93 612.30,489.40 C614.68,489.87 617.02,490.68 619.40,491.40 C621.78,492.12 624.22,492.98 626.60,493.70 C628.98,494.42 631.32,495.05 633.70,495.70 C636.08,496.35 638.52,497.05 640.90,497.60 C643.28,498.15 645.63,498.60 648.00,499.00 C650.37,499.40 652.72,499.72 655.10,500.00 C657.48,500.28 655.88,500.53 662.30,500.70 C668.72,500.87 688.38,500.95 693.60,501.00 L693.60,501.00 L502.20,501.00 Z" fill="#b0a4d4" stroke="none"/>
<line x1="502.20" y1="501.00" x2="693.60" y2="501.00" stroke="#7a64b8" stroke-width="1.6"/>
<path d="M502.20,501.00 C505.73,501.00 518.67,501.05 523.40,501.00 C528.13,500.95 528.22,500.87 530.60,500.70 C532.98,500.53 535.32,500.33 537.70,500.00 C540.08,499.67 542.52,499.18 544.90,498.70 C547.28,498.22 549.63,497.70 552.00,497.10 C554.37,496.50 556.72,495.78 559.10,495.10 C561.48,494.42 563.92,493.67 566.30,493.00 C568.68,492.33 571.02,491.70 573.40,491.10 C575.78,490.50 578.22,489.75 580.60,489.40 C582.98,489.05 585.32,489.12 587.70,489.00 C590.08,488.88 592.85,488.77 594.90,488.70 C596.95,488.63 598.30,488.62 600.00,488.60 C601.70,488.58 603.05,488.47 605.10,488.60 C607.15,488.73 609.92,488.93 612.30,489.40 C614.68,489.87 617.02,490.68 619.40,491.40 C621.78,492.12 624.22,492.98 626.60,493.70 C628.98,494.42 631.32,495.05 633.70,495.70 C636.08,496.35 638.52,497.05 640.90,497.60 C643.28,498.15 645.63,498.60 648.00,499.00 C650.37,499.40 652.72,499.72 655.10,500.00 C657.48,500.28 655.88,500.53 662.30,500.70 C668.72,500.87 688.38,500.95 693.60,501.00" fill="none" stroke="#1a1a1a" stroke-opacity="0.8" stroke-width="1.7" stroke-linejoin="round"/>
<rect x="586.45" y="476.10" width="3.5" height="26.4" fill="#5e44a5"/>
<path d="M502.20,530.28 C508.12,530.28 530.58,530.33 537.70,530.28 C544.82,530.23 542.52,530.16 544.90,530.00 C547.28,529.84 549.63,529.65 552.00,529.30 C554.37,528.95 556.72,528.62 559.10,527.90 C561.48,527.18 563.92,526.08 566.30,525.00 C568.68,523.92 571.02,522.72 573.40,521.40 C575.78,520.08 578.22,518.48 580.60,517.10 C582.98,515.72 585.57,514.23 587.70,513.10 C589.83,511.97 591.73,510.93 593.40,510.30 C595.07,509.67 596.22,509.35 597.70,509.30 C599.18,509.25 600.35,509.28 602.30,510.00 C604.25,510.72 607.02,512.28 609.40,513.60 C611.78,514.92 614.22,516.35 616.60,517.90 C618.98,519.45 621.32,521.48 623.70,522.90 C626.08,524.32 628.52,525.45 630.90,526.40 C633.28,527.35 635.63,528.07 638.00,528.60 C640.37,529.13 642.25,529.37 645.10,529.60 C647.95,529.83 647.02,529.89 655.10,530.00 C663.18,530.11 687.18,530.23 693.60,530.28 L693.60,530.28 L502.20,530.28 Z" fill="#deaacf" stroke="none"/>
<line x1="502.20" y1="530.28" x2="693.60" y2="530.28" stroke="#d070b8" stroke-width="1.6"/>
<path d="M502.20,530.28 C508.12,530.28 530.58,530.33 537.70,530.28 C544.82,530.23 542.52,530.16 544.90,530.00 C547.28,529.84 549.63,529.65 552.00,529.30 C554.37,528.95 556.72,528.62 559.10,527.90 C561.48,527.18 563.92,526.08 566.30,525.00 C568.68,523.92 571.02,522.72 573.40,521.40 C575.78,520.08 578.22,518.48 580.60,517.10 C582.98,515.72 585.57,514.23 587.70,513.10 C589.83,511.97 591.73,510.93 593.40,510.30 C595.07,509.67 596.22,509.35 597.70,509.30 C599.18,509.25 600.35,509.28 602.30,510.00 C604.25,510.72 607.02,512.28 609.40,513.60 C611.78,514.92 614.22,516.35 616.60,517.90 C618.98,519.45 621.32,521.48 623.70,522.90 C626.08,524.32 628.52,525.45 630.90,526.40 C633.28,527.35 635.63,528.07 638.00,528.60 C640.37,529.13 642.25,529.37 645.10,529.60 C647.95,529.83 647.02,529.89 655.10,530.00 C663.18,530.11 687.18,530.23 693.60,530.28" fill="none" stroke="#1a1a1a" stroke-opacity="0.8" stroke-width="1.7" stroke-linejoin="round"/>
<rect x="595.45" y="505.38" width="3.5" height="26.4" fill="#c250a8"/>
<line x1="502.20" y1="324.40" x2="502.20" y2="530.98" stroke="#333" stroke-width="1.5"/>
<line x1="534.10" y1="533.20" x2="534.10" y2="540.60" stroke="#222" stroke-width="1.1"/>
<text x="515.15" y="552.20" font-size="12.40" text-anchor="start" font-weight="normal" fill="#000" font-family="Liberation Sans" textLength="27.90" lengthAdjust="spacingAndGlyphs">−0.2</text>
<line x1="597.90" y1="533.20" x2="597.90" y2="540.60" stroke="#222" stroke-width="1.1"/>
<text x="588.60" y="552.20" font-size="12.40" text-anchor="start" font-weight="normal" fill="#000" font-family="Liberation Sans" textLength="18.60" lengthAdjust="spacingAndGlyphs">0.0</text>
<line x1="661.70" y1="533.20" x2="661.70" y2="540.60" stroke="#222" stroke-width="1.1"/>
<text x="652.40" y="552.20" font-size="12.40" text-anchor="start" font-weight="normal" fill="#000" font-family="Liberation Sans" textLength="18.60" lengthAdjust="spacingAndGlyphs">0.2</text>
<text x="532.40" y="569.60" font-size="16.20" text-anchor="start" font-weight="normal" fill="#000" font-family="Liberation Sans" textLength="128.50" lengthAdjust="spacingAndGlyphs">Cosine similarity</text>
</svg>
</body></html>
